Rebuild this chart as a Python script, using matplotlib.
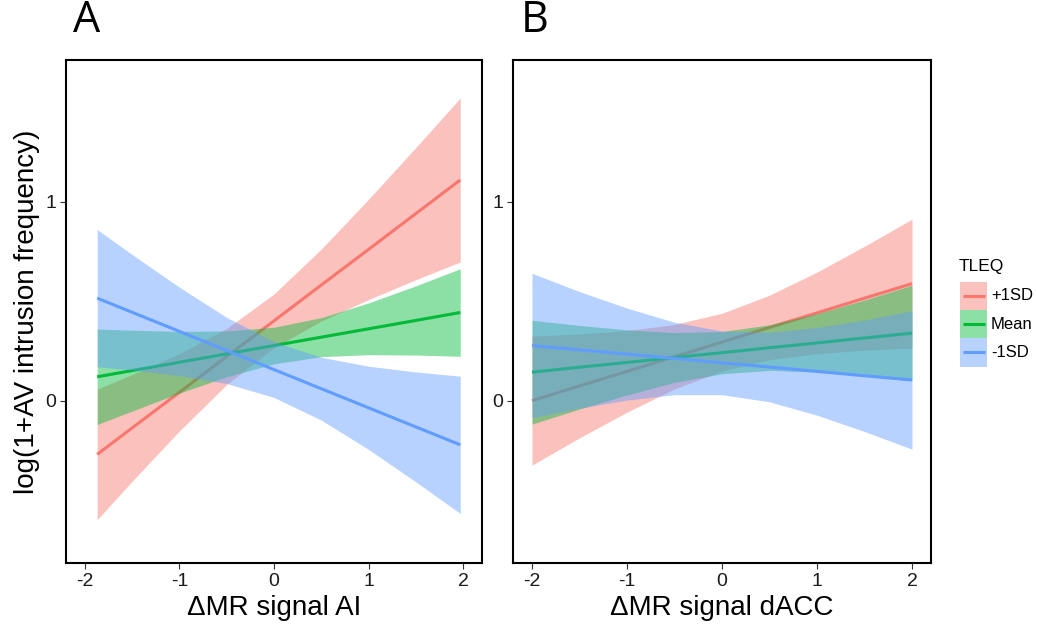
import matplotlib.pyplot as plt
from matplotlib.patches import Rectangle

# panel A: AI
x_a = [-1.87, -1.5, -1.0, -0.5, 0.0, 0.5, 1.0, 1.5, 1.97]
hi_fit_a = [-0.270, -0.137, 0.042, 0.222, 0.401, 0.581, 0.760, 0.940, 1.109]
hi_lo_a = [-0.598, -0.405, -0.152, 0.081, 0.266, 0.400, 0.508, 0.608, 0.697]
hi_up_a = [0.058, 0.131, 0.236, 0.363, 0.536, 0.762, 1.012, 1.272, 1.521]
mean_fit_a = [0.120, 0.151, 0.193, 0.235, 0.277, 0.319, 0.361, 0.403, 0.443]
mean_lo_a = [-0.120, -0.052, 0.038, 0.120, 0.185, 0.221, 0.231, 0.229, 0.223]
mean_up_a = [0.360, 0.354, 0.348, 0.350, 0.369, 0.417, 0.491, 0.577, 0.663]
lo_fit_a = [0.515, 0.444, 0.348, 0.252, 0.156, 0.060, -0.036, -0.132, -0.222]
lo_lo_a = [0.170, 0.154, 0.126, 0.086, 0.016, -0.098, -0.245, -0.408, -0.567]
lo_up_a = [0.860, 0.734, 0.570, 0.418, 0.296, 0.218, 0.173, 0.144, 0.123]

# panel B: dACC
x_b = [-2.0, -1.5, -1.0, -0.5, 0.0, 0.5, 1.0, 1.5, 2.0]
hi_fit_b = [0.000, 0.074, 0.147, 0.221, 0.294, 0.368, 0.441, 0.515, 0.588]
hi_lo_b = [-0.324, -0.187, -0.058, 0.059, 0.149, 0.206, 0.236, 0.254, 0.264]
hi_up_b = [0.324, 0.335, 0.352, 0.383, 0.439, 0.530, 0.646, 0.776, 0.912]
mean_fit_b = [0.143, 0.168, 0.192, 0.217, 0.241, 0.266, 0.290, 0.315, 0.339]
mean_lo_b = [-0.118, -0.042, 0.029, 0.092, 0.135, 0.152, 0.143, 0.124, 0.099]
mean_up_b = [0.404, 0.378, 0.356, 0.342, 0.347, 0.381, 0.437, 0.506, 0.580]
lo_fit_b = [0.277, 0.255, 0.234, 0.212, 0.190, 0.169, 0.147, 0.125, 0.104]
lo_lo_b = [-0.086, -0.038, 0.003, 0.030, 0.030, -0.006, -0.073, -0.155, -0.244]
lo_up_b = [0.640, 0.548, 0.465, 0.394, 0.350, 0.344, 0.367, 0.405, 0.452]

groups = ['+1SD', 'Mean', '-1SD']
colors = ['#F8766D', '#00BA38', '#619CFF']
band_alpha = 0.45

plt.rcParams['font.family'] = ['Liberation Sans', 'DejaVu Sans']

fig = plt.figure(figsize=(10.38, 6.26), dpi=100)
W, H = 1038.0, 626.0
axA = fig.add_axes([66 / W, 1 - 563 / H, 416 / W, 503 / H])
axB = fig.add_axes([513 / W, 1 - 563 / H, 418 / W, 503 / H])

panels = [
    (axA, x_a, [(hi_fit_a, hi_lo_a, hi_up_a), (mean_fit_a, mean_lo_a, mean_up_a),
                (lo_fit_a, lo_lo_a, lo_up_a)], '\u0394MR signal AI', 'A'),
    (axB, x_b, [(hi_fit_b, hi_lo_b, hi_up_b), (mean_fit_b, mean_lo_b, mean_up_b),
                (lo_fit_b, lo_lo_b, lo_up_b)], '\u0394MR signal dACC', 'B'),
]

for ax, xs, series, xlabel, letter in panels:
    for i, ((fit, lo, up), clr) in enumerate(zip(series, colors)):
        # ribbon then line, group by group, so later ribbons cover earlier lines
        ax.fill_between(xs, lo, up, color=clr, alpha=band_alpha, linewidth=0, zorder=2 + 2 * i)
        ax.plot(xs, fit, color=clr, lw=2.2, solid_capstyle='butt', zorder=3 + 2 * i)
    ax.set_xlim(-2.2, 2.2)
    ax.set_ylim(-0.816, 1.712)
    ax.set_xticks([-2, -1, 0, 1, 2])
    ax.set_xticklabels(['-2', '-1', '0', '1', '2'])
    ax.set_yticks([0, 1])
    ax.tick_params(direction='out', length=4, width=0.8, color='#333333',
                   labelsize=14, labelcolor='#1a1a1a', pad=3)
    for sp in ax.spines.values():
        sp.set_linewidth(1.5)
        sp.set_color('black')
        sp.set_zorder(10)
    ax.set_xlabel(xlabel, fontsize=20, labelpad=4)
    ax.text(0.018, 1.033, letter, transform=ax.transAxes,
            fontsize=31, family=['Open Sans', 'DejaVu Sans'], va='bottom', ha='left')

axA.set_ylabel('log(1+AV intrusion frequency)', fontsize=20, labelpad=4)

# legend drawn in pixel coordinates
lax = fig.add_axes([0, 0, 1, 1])
lax.set_xlim(0, W)
lax.set_ylim(H, 0)
lax.axis('off')
lax.text(959, 266, 'TLEQ', fontsize=12.5, va='center', ha='left')
key_top, key_h = 281.7, 28.3
for i, (g, c) in enumerate(zip(groups, colors)):
    y0 = key_top + i * key_h
    lax.add_patch(Rectangle((960, y0), 27, key_h, facecolor=c, alpha=band_alpha, linewidth=0))
    lax.plot([962.5, 984.5], [y0 + key_h / 2] * 2, color=c, lw=2.2, solid_capstyle='butt')
    lax.text(991, y0 + key_h / 2, g, fontsize=12, va='center', ha='left')

fig.savefig('out.png', dpi=100)
